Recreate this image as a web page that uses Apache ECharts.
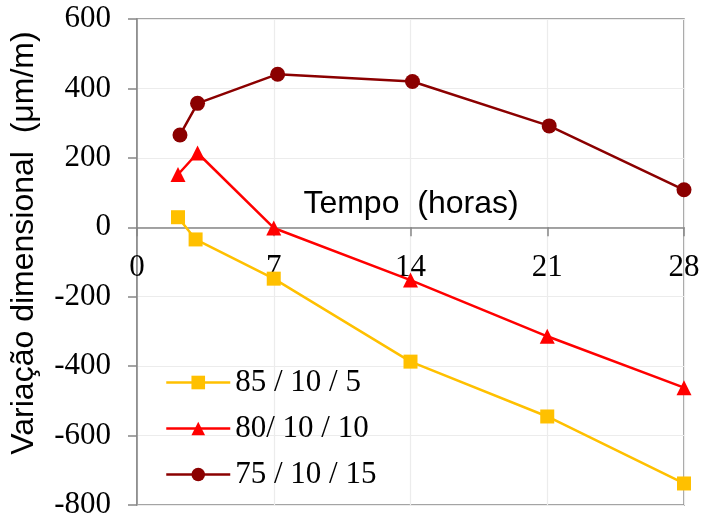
<!DOCTYPE html>
<html>
<head>
<meta charset="utf-8">
<script src="https://cdn.jsdelivr.net/npm/echarts@6/dist/echarts.min.js"></script>
<style>
  html, body { margin: 0; padding: 0; background: #ffffff; }
  #chart { width: 702px; height: 520px; }
</style>
</head>
<body>
<div id="chart"></div>
<script>
// Tempo (horas) of each reading, per mix
const hoursA = [2.1, 3.0, 7, 14, 21, 28];
const hoursB = [2.1, 3.1, 7, 14, 21, 28];
const hoursC = [2.2, 3.1, 7.2, 14.1, 21.1, 28];

// Variação dimensional (µm/m)
const mixA = [29, -35, -148, -387, -545, -738];   // 85 / 10 / 5
const mixB = [152, 214, -2, -152, -314, -462];    // 80/ 10 / 10
const mixC = [266, 357, 441, 420, 292, 108];      // 75 / 10 / 15

const seriesNames = ['85 / 10 / 5', '80/ 10 / 10', '75 / 10 / 15'];
const xTicks = [0, 7, 14, 21, 28];
const yTicks = [-800, -600, -400, -200, 0, 200, 400, 600];

const xTitle = 'Tempo  (horas)';
const yTitle = 'Variação dimensional  (μm/m)';

const pairs = (xs, ys) => xs.map((x, i) => [x, ys[i]]);

const axisGray = '#868686';
const gridGray = '#ececec';
const serif = '"Liberation Serif", "Times New Roman", serif';
const sans = '"Liberation Sans", Arial, sans-serif';

// plot box
const gridLeft = 137, gridTop = 19, gridW = 547, gridH = 486;
const yMin = yTicks[0], yMax = yTicks[yTicks.length - 1];
// lift the horizontal axis from the bottom edge up to the value 0
const zeroLift = gridH * (0 - yMin) / (yMax - yMin);

const chart = echarts.init(document.getElementById('chart'), null, { renderer: 'canvas' });

function lineSeries(name, data, color, symbol, size) {
  return {
    name: name,
    type: 'line',
    data: data,
    symbol: symbol,
    symbolSize: size,
    showAllSymbol: true,
    lineStyle: { color: color, width: 2.5 },
    itemStyle: { color: color },
    emphasis: { disabled: true },
    animation: false,
    z: 3
  };
}

chart.setOption({
  backgroundColor: '#ffffff',
  animation: false,
  grid: {
    left: gridLeft, top: gridTop, width: gridW, height: gridH,
    outerBoundsMode: 'none', containLabel: false,
    show: true, borderColor: axisGray, borderWidth: 1.5, backgroundColor: 'transparent'
  },
  xAxis: {
    type: 'value',
    position: 'bottom',
    offset: -zeroLift,
    min: xTicks[0], max: xTicks[xTicks.length - 1], interval: 7,
    axisLine: { onZero: false, lineStyle: { color: axisGray, width: 1.5 } },
    axisTick: { show: true, length: 9, lineStyle: { color: axisGray, width: 1.5 } },
    axisLabel: {
      margin: 25, color: '#000000', fontFamily: serif, fontSize: 31,
      showMinLabel: true, showMaxLabel: true
    },
    splitLine: { show: true, lineStyle: { color: gridGray, width: 1.2 } }
  },
  yAxis: {
    type: 'value',
    min: yMin, max: yMax, interval: 200,
    axisLine: { show: true, lineStyle: { color: axisGray, width: 1.5 } },
    axisTick: { show: true, length: 9, lineStyle: { color: axisGray, width: 1.5 } },
    axisLabel: { margin: 26, color: '#000000', fontFamily: serif, fontSize: 31 },
    splitLine: { show: true, lineStyle: { color: gridGray, width: 1.2 } }
  },
  legend: {
    orient: 'vertical',
    left: 160, top: 362,
    itemWidth: 64, itemHeight: 17, itemGap: 15,
    lineStyle: { width: 2.5 },
    textStyle: { color: '#000000', fontFamily: serif, fontSize: 31 },
    data: seriesNames,
    selectedMode: false
  },
  graphic: [
    {
      type: 'text', x: 411, y: 204, z: 10,
      style: {
        text: xTitle, fill: '#000000', font: '32px ' + sans,
        textAlign: 'center', textVerticalAlign: 'middle'
      }
    },
    {
      type: 'text', x: 24, y: 243, rotation: Math.PI / 2, z: 10,
      style: {
        text: yTitle, fill: '#000000', font: '32px ' + sans,
        textAlign: 'center', textVerticalAlign: 'middle'
      }
    }
  ],
  series: [
    lineSeries(seriesNames[0], pairs(hoursA, mixA), '#FFC000', 'rect', 14),
    lineSeries(seriesNames[1], pairs(hoursB, mixB), '#FF0000', 'triangle', 15),
    lineSeries(seriesNames[2], pairs(hoursC, mixC), '#8B0000', 'circle', 15)
  ]
});
</script>
</body>
</html>
